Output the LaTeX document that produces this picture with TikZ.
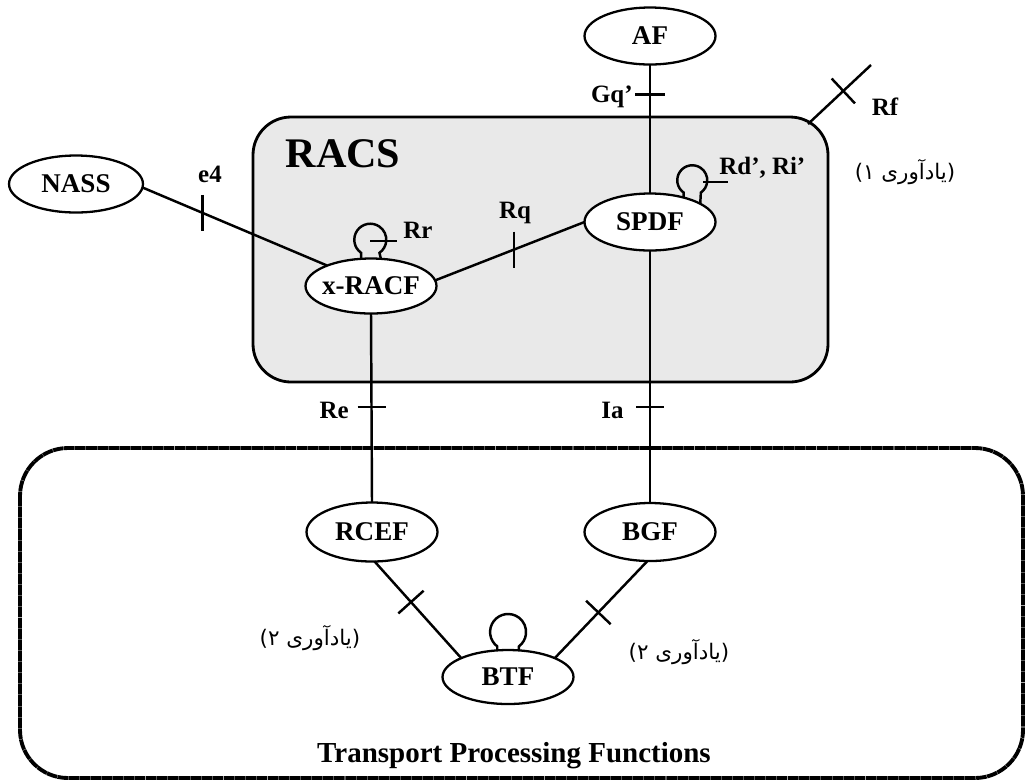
\documentclass[tikz,border=0pt]{standalone}
\usepackage{fontspec}
\setmainfont{Liberation Serif}
\newfontfamily\arabicfont[Script=Arabic]{DejaVu Sans}
\TeXXeTstate=1
\usetikzlibrary{shapes.geometric,calc}
\definecolor{racsgray}{RGB}{233,233,233}
\begin{document}
\begin{tikzpicture}[x=0.02cm,y=-0.02cm,
  ell/.style={draw, ellipse, line width=1.3pt, inner sep=0pt, outer sep=0pt, fill=white,
              minimum width=2.62cm, minimum height=1.14cm, font=\fontsize{15.4}{17}\selectfont\bfseries},
  conn/.style={line width=1.4pt},
  tickl/.style={line width=1.4pt},
  lbl/.style={font=\fontsize{14.2}{16}\selectfont\bfseries, inner sep=0pt},
  fa/.style={font=\arabicfont\fontsize{12.2}{14}\selectfont, inner sep=0pt}]

\useasboundingbox (0,0) rectangle (1026,782);

% boxes
\draw[line width=2.2pt, dash pattern=on 6pt off 0.3pt, rounded corners=0.96cm] (20,448) rectangle (1023,778);
\draw[line width=1.6pt, fill=racsgray, rounded corners=0.76cm] (253,117) rectangle (828,382);

\node[font=\fontsize{24}{28}\selectfont\bfseries, inner sep=0pt] (racs) at (343,154) {RACS};
\node[font=\fontsize{16.5}{18}\selectfont\bfseries, inner sep=0pt] (tpf) at (514,756) {Transport Processing Functions};

% function nodes
\node[ell] (af)    at (650,36)  {\makebox[0pt]{AF}};
\node[ell, minimum width=2.68cm] (nass)  at (76,184)  {\makebox[0pt]{NASS}};
\node[ell] (spdf)  at (650,222) {\makebox[0pt]{SPDF}};
\node[ell, minimum height=1.1cm] (xracf) at (371,286) {\makebox[0pt]{x-RACF}};
\node[ell, minimum height=1.18cm] (rcef)  at (372,532) {\makebox[0pt]{RCEF}};
\node[ell, minimum height=1.16cm] (bgf)   at (650,532) {\makebox[0pt]{BGF}};
\node[ell, minimum height=1.08cm] (btf)   at (508,677) {\makebox[0pt]{BTF}};

% connectors with reference points
\draw[conn] (af.south) -- coordinate[pos=0.233] (tgq) (spdf.north);
\draw[tickl] ($(tgq)+(-15,0)$) -- ($(tgq)+(15,0)$);
\node[lbl, anchor=east] (lgq) at (633,97) {Gq'};

\draw[conn] (nass.-3) -- coordinate[pos=0.326] (te4) (xracf.155);
\draw[tickl] ($(te4)+(0,-18)$) -- ($(te4)+(0,18)$);
\node[lbl] (le4) at (210,174) {e4};

\draw[conn] (xracf.5) -- coordinate[pos=0.527] (trq) (spdf.west);
\draw[tickl] ($(trq)+(0,-18)$) -- ($(trq)+(0,18)$);
\node[lbl] (lrq) at (515,213) {Rq};

\draw[conn] (xracf.south) -- coordinate[pos=0.495] (tre) (rcef.north);
\draw[tickl] ($(tre)+(-14,0)$) -- ($(tre)+(14,0)$);
\node[lbl, anchor=east] (lre) at (349,410) {Re};

\draw[conn] (spdf.south) -- coordinate[pos=0.62] (tia) (bgf.north);
\draw[tickl] ($(tia)+(-14,0)$) -- ($(tia)+(14,0)$);
\node[lbl, anchor=east] (lia) at (624,410) {Ia};

\draw[conn] (rcef.-85) -- coordinate[pos=0.42] (trb) (btf.158);
\draw[tickl] ($(trb)!0.34cm!90:(btf.158)$) -- ($(trb)!0.34cm!-90:(btf.158)$);

\draw[conn] (bgf.-95) -- coordinate[pos=0.53] (tbb) (btf.22);
\draw[tickl] ($(tbb)!0.34cm!90:(btf.22)$) -- ($(tbb)!0.34cm!-90:(btf.22)$);

\coordinate (rfa) at (808,124);
\coordinate (rfb) at (871,65);
\draw[conn] (rfa) -- coordinate[pos=0.56] (trf) (rfb);
\draw[tickl] ($(trf)!0.34cm!90:(rfb)$) -- ($(trf)!0.34cm!-90:(rfb)$);
\node[lbl] (lrf) at (885,107) {Rf};

% self loops
\draw[conn] (xracf.110) -- ++(0,-6) arc[start angle=125, end angle=415, radius=16] -- (xracf.70);
\draw[tickl] (370,241) -- (397,241);
\node[lbl] (lrr) at (418,230) {Rr};

\draw[conn] (spdf.36) -- ++(0,-5) arc[start angle=125, end angle=415, radius=15] -- (spdf.20);
\draw[tickl] (703,182) -- (728,182);
\node[lbl, anchor=west] (lrd) at (719,168) {Rd', Ri'};

\draw[conn] (btf.112) -- ++(0,-4) arc[start angle=127, end angle=413, radius=18] -- (btf.68);

% notes
\node[fa] (n1) at (905,172) {\beginR(یادآوری ۱)\endR};
\node[fa] (n2) at (310,638) {\beginR(یادآوری ۲)\endR};
\node[fa] (n3) at (679,652) {\beginR(یادآوری ۲)\endR};
\end{tikzpicture}
\end{document}
